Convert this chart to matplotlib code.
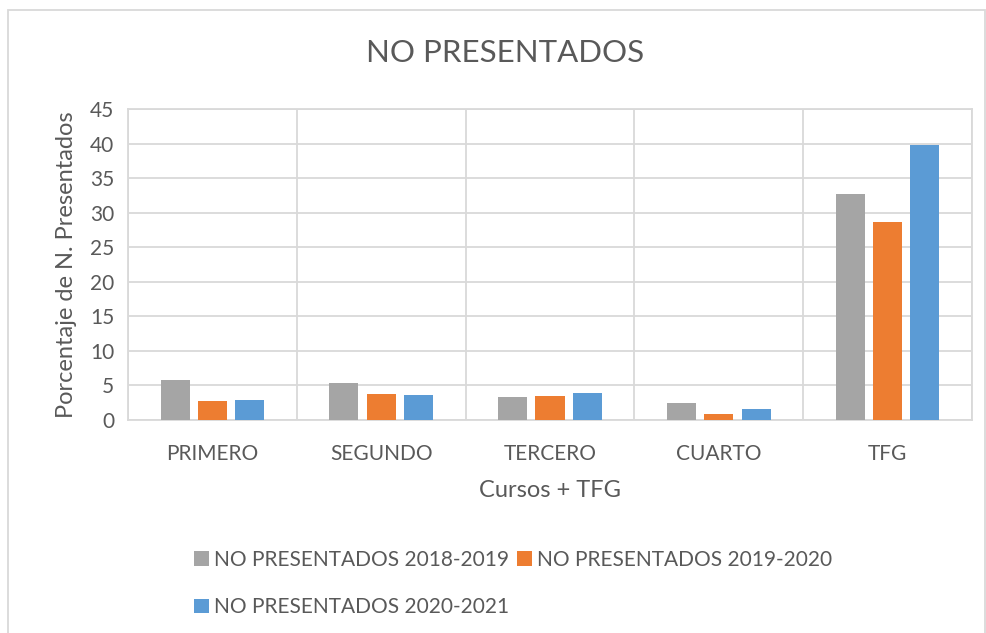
import numpy as np
import matplotlib
matplotlib.use('Agg')
import matplotlib.pyplot as plt
from matplotlib.patches import Rectangle

plt.rcParams['font.family'] = ['Lato', 'DejaVu Sans']

# data
cursos = ['PRIMERO', 'SEGUNDO', 'TERCERO', 'CUARTO', 'TFG']
np_2018 = [5.8, 5.3, 3.35, 2.45, 32.7]
np_2019 = [2.75, 3.8, 3.5, 0.85, 28.7]
np_2020 = [2.85, 3.55, 3.9, 1.55, 39.8]
series_names = ['NO PRESENTADOS 2018-2019', 'NO PRESENTADOS 2019-2020', 'NO PRESENTADOS 2020-2021']
colores = ['#A5A5A5', '#ED7D31', '#5B9BD5']
yticks = [0, 5, 10, 15, 20, 25, 30, 35, 40, 45]

txt = '#595959'
grid = '#D9D9D9'

fig = plt.figure(figsize=(9.87, 6.33), dpi=100)
ax = fig.add_axes([128/987, 1-420/633, 844/987, 311/633])

x = np.arange(len(cursos))
w = 0.172
step = 0.221
bars = []
for i, (vals, c, nm) in enumerate(zip([np_2018, np_2019, np_2020], colores, series_names)):
    b = ax.bar(x + (i-1)*step, vals, width=w, color=c, label=nm, zorder=3)
    bars.append(b)

ax.set_xlim(-0.5, len(cursos)-0.5)
ax.set_ylim(0, 45)
ax.set_yticks(yticks)
ax.set_xticks(x)
ax.set_xticklabels(cursos)
# vertical gridlines at category borders
ax.set_xticks(np.arange(-0.5, len(cursos)), minor=True)
ax.grid(True, axis='y', color=grid, lw=1.3, zorder=0)
ax.grid(True, axis='x', which='minor', color=grid, lw=1.3, zorder=0)
ax.grid(False, axis='x', which='major')
for s in ax.spines.values():
    s.set_color(grid)
    s.set_linewidth(1.3)
ax.tick_params(axis='both', which='both', length=0, colors=txt, labelsize=15)
ax.tick_params(axis='x', pad=17)
ax.tick_params(axis='y', pad=10)

ax.set_ylabel('Porcentaje de N. Presentados', fontsize=17, color=txt, labelpad=9)
ax.set_xlabel('Cursos + TFG', fontsize=17, color=txt, labelpad=12)
fig.text(505/987, 1-53/633, 'NO PRESENTADOS', ha='center', va='center', fontsize=22.5, color=txt)

h = [bars[0], bars[2], bars[1]]
l = [series_names[0], series_names[2], series_names[1]]
fig.legend(h, l, ncol=2, loc='upper left', bbox_to_anchor=(194/987, 1-550/633),
           frameon=False, fontsize=15, labelcolor=txt, handlelength=0.7, handleheight=0.7,
           handletextpad=0.25, columnspacing=0.4, labelspacing=1.3, borderaxespad=0, borderpad=0)

fig.patches.append(Rectangle((8/987, -0.05), 977/987, 1.05-10/633, transform=fig.transFigure,
                             fill=False, edgecolor=grid, lw=1.3))

plt.savefig('out.png', dpi=100)
